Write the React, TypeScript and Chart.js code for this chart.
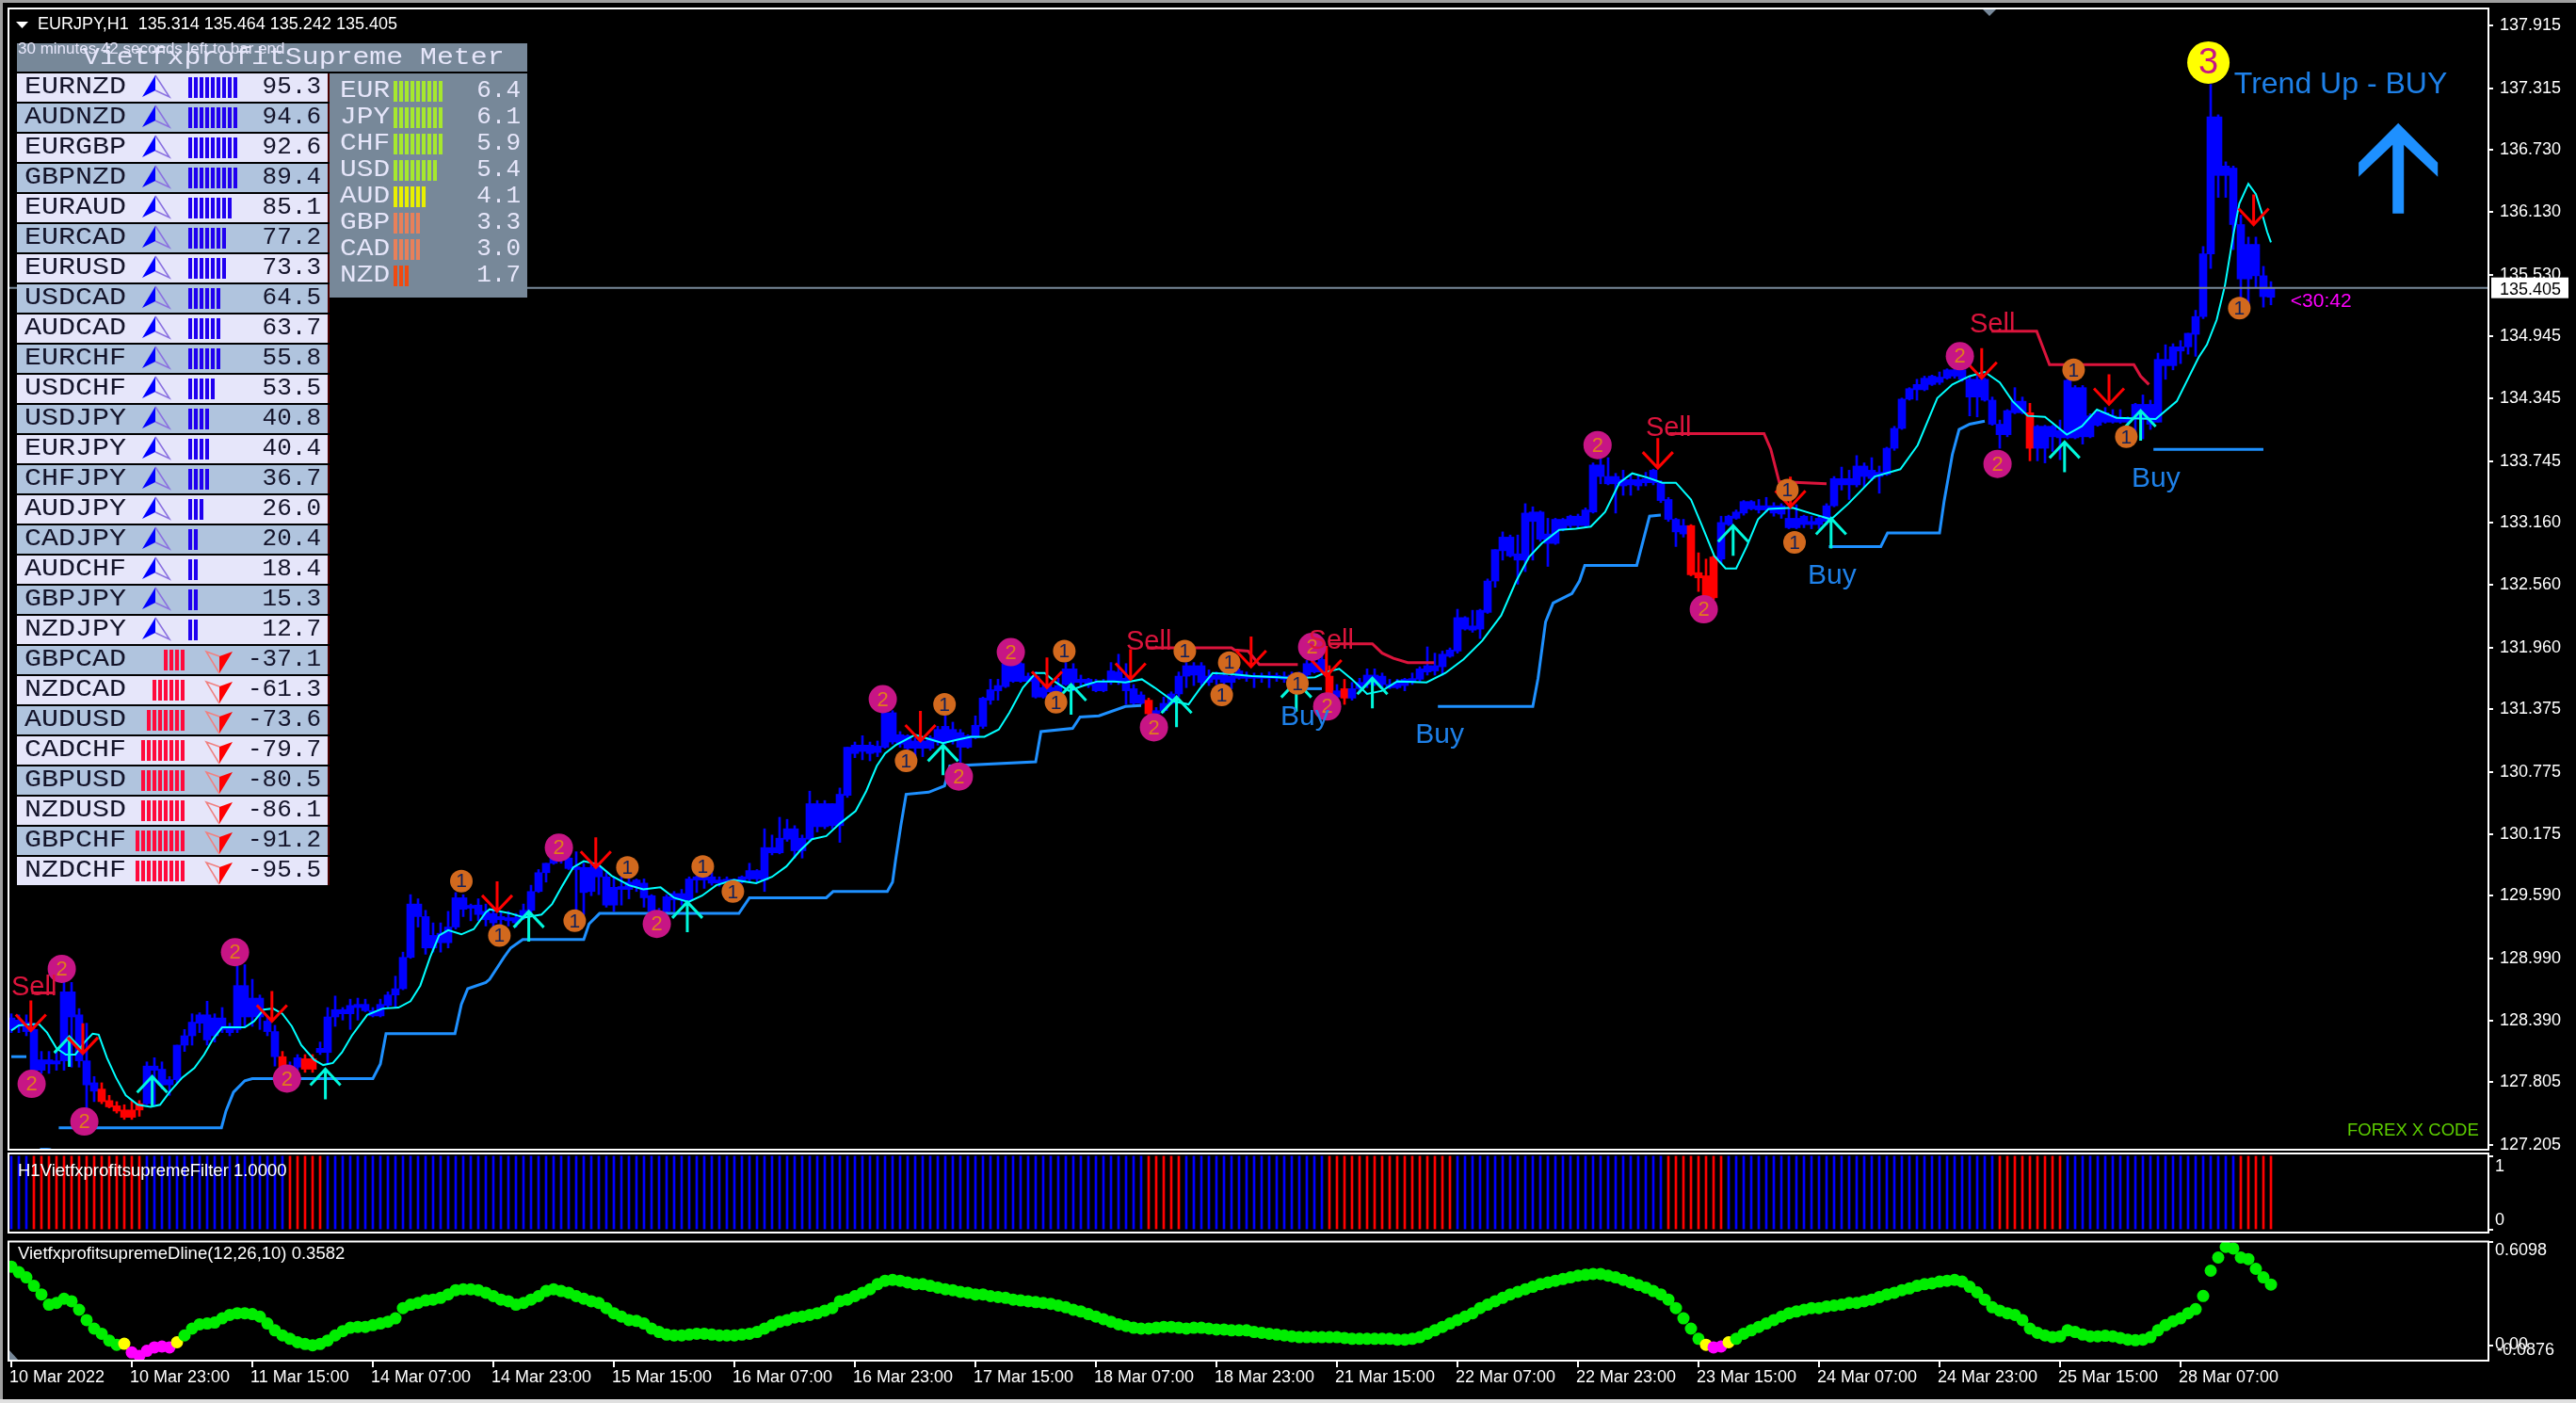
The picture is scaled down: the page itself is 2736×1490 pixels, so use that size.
import React, { useEffect, useRef } from "react";
import { Chart, registerables } from "chart.js";

Chart.register(...registerables);

const bodyTop = [
128.42,128.40,128.38,128.31,128.02,128.02,128.01,128.67,128.67,128.45,
128.01,127.80,127.74,127.63,127.58,127.54,127.54,127.60,127.96,127.96,
127.93,127.83,128.16,128.25,128.38,128.45,128.45,128.42,128.42,128.34,
128.73,128.73,128.61,128.61,128.39,128.29,128.05,127.96,128.04,128.03,
128.03,128.13,128.43,128.50,128.50,128.54,128.55,128.55,128.49,128.55,
128.64,128.70,129.00,129.51,129.51,129.39,129.21,129.23,129.29,129.57,
129.57,129.48,129.50,129.44,129.42,129.39,129.38,129.38,129.45,129.63,
129.81,129.90,129.96,130.02,129.95,129.86,129.86,129.86,129.86,129.77,
129.67,129.67,129.72,129.74,129.71,129.59,129.44,129.58,129.61,129.61,
129.75,129.77,129.77,129.77,129.74,129.73,129.74,129.77,129.83,129.83,
130.05,130.05,130.14,130.23,130.23,130.14,130.47,130.47,130.47,130.47,
130.56,131.01,131.03,131.03,131.03,131.02,131.34,131.34,131.13,131.12,
131.07,131.07,131.10,131.18,131.21,131.18,131.15,131.12,131.22,131.48,
131.56,131.60,131.81,131.81,131.81,131.69,131.69,131.58,131.58,131.60,
131.76,131.76,131.66,131.66,131.63,131.63,131.74,131.73,131.67,131.57,
131.51,131.46,131.36,131.43,131.52,131.69,131.79,131.79,131.79,131.69,
131.70,131.70,131.69,131.74,131.69,131.69,131.69,131.69,131.69,131.69,
131.70,131.72,131.81,131.82,131.85,131.69,131.55,131.57,131.57,131.63,
131.70,131.70,131.69,131.61,131.63,131.66,131.66,131.76,131.79,131.79,
131.90,131.94,132.25,132.25,132.17,132.32,132.60,132.90,133.02,133.02,
132.86,133.25,133.26,133.26,133.05,133.19,133.19,133.22,133.22,133.28,
133.71,133.71,133.60,133.60,133.57,133.57,133.57,133.58,133.66,133.54,
133.38,133.19,133.13,133.13,132.68,132.65,132.83,133.16,133.22,133.26,
133.36,133.36,133.32,133.32,133.32,133.32,133.20,133.20,133.22,133.17,
133.20,133.32,133.58,133.58,133.58,133.70,133.70,133.66,133.64,133.87,
134.06,134.34,134.44,134.48,134.54,134.56,134.55,134.62,134.62,134.62,
134.53,134.53,134.53,134.33,134.10,134.23,134.32,134.32,134.21,134.08,
134.08,134.08,134.04,134.52,134.45,134.45,134.18,134.21,134.21,134.18,
134.15,134.15,134.29,134.29,134.29,134.72,134.72,134.84,134.84,134.97,
135.13,135.73,137.04,137.04,136.57,136.55,136.01,135.82,135.82,135.52,135.405];

const bodyBottom = [
128.31,128.34,128.29,127.92,127.92,127.98,127.98,128.01,128.43,128.01,
127.78,127.72,127.62,127.57,127.53,127.47,127.47,127.54,127.60,127.92,
127.78,127.78,127.83,128.16,128.25,128.37,128.21,128.25,128.31,128.28,
128.31,128.43,128.43,128.43,128.29,128.05,127.95,127.92,127.95,127.93,
127.93,128.09,128.09,128.43,128.46,128.46,128.52,128.49,128.44,128.44,
128.54,128.64,128.70,129.00,129.39,129.09,129.09,129.14,129.14,129.29,
129.46,129.47,129.41,129.36,129.33,129.36,129.35,129.33,129.38,129.45,
129.63,129.81,129.90,129.95,129.85,129.84,129.62,129.63,129.77,129.50,
129.50,129.65,129.65,129.68,129.57,129.44,129.41,129.44,129.55,129.55,
129.55,129.74,129.74,129.71,129.71,129.72,129.72,129.72,129.75,129.75,
129.74,130.00,130.00,130.13,130.02,130.02,130.13,130.25,130.25,130.26,
130.26,130.55,130.95,130.97,130.95,130.96,131.01,131.06,131.04,131.00,
131.00,131.00,131.00,131.06,131.06,131.07,131.01,131.01,131.10,131.21,
131.46,131.55,131.59,131.64,131.64,131.64,131.49,131.49,131.54,131.54,
131.61,131.63,131.63,131.60,131.55,131.55,131.63,131.64,131.55,131.43,
131.43,131.33,131.33,131.36,131.43,131.52,131.69,131.70,131.63,131.63,
131.66,131.63,131.63,131.67,131.67,131.67,131.67,131.67,131.67,131.66,
131.67,131.63,131.70,131.73,131.73,131.52,131.49,131.48,131.48,131.57,
131.61,131.63,131.61,131.58,131.58,131.60,131.64,131.66,131.73,131.74,
131.78,131.88,131.93,132.14,132.13,132.14,132.30,132.60,132.89,132.84,
132.80,132.80,133.17,133.00,132.96,132.96,133.10,133.13,133.13,133.13,
133.26,133.60,133.53,133.53,133.51,133.52,133.51,133.54,133.54,133.37,
133.19,133.07,133.05,132.66,132.63,132.45,132.44,132.81,133.14,133.20,
133.25,133.29,133.28,133.28,133.25,133.24,133.11,133.11,133.14,133.14,
133.14,133.17,133.32,133.52,133.52,133.52,133.60,133.58,133.60,133.62,
133.87,134.06,134.34,134.43,134.43,134.48,134.50,134.54,134.56,134.53,
134.36,134.36,134.33,134.10,134.00,134.00,134.21,134.21,133.87,133.87,
133.87,133.98,133.97,133.97,133.97,133.98,133.98,134.09,134.12,134.12,
134.12,134.12,134.15,134.15,134.10,134.12,134.66,134.66,134.80,134.84,
134.96,135.13,135.73,136.48,136.48,136.01,135.49,135.49,135.52,135.32,135.314];

const wickHigh = [
128.46,128.45,128.45,128.37,128.10,128.10,128.10,128.76,128.76,128.51,
128.37,127.86,127.80,127.68,127.62,127.59,127.63,127.63,128.00,128.04,
128.00,127.86,128.16,128.31,128.46,128.47,128.58,128.46,128.52,128.37,
128.93,128.93,128.79,128.64,128.43,128.35,128.10,128.00,128.07,128.07,
128.07,128.19,128.52,128.63,128.52,128.60,128.61,128.60,128.52,128.60,
128.67,128.82,129.05,129.60,129.56,129.45,129.33,129.33,129.44,129.62,
129.60,129.51,129.56,129.51,129.47,129.44,129.44,129.42,129.51,129.69,
129.84,129.90,129.98,130.05,130.01,130.01,129.90,129.90,129.90,129.81,
129.77,129.77,129.77,129.75,129.75,129.60,129.47,129.60,129.63,129.65,
129.77,129.78,129.81,129.81,129.77,129.77,129.75,129.78,129.90,129.84,
130.23,130.17,130.34,130.32,130.26,130.17,130.59,130.50,130.50,130.47,
130.62,131.01,131.06,131.12,131.06,131.07,131.37,131.36,131.16,131.13,
131.10,131.10,131.12,131.21,131.31,131.25,131.18,131.13,131.31,131.49,
131.66,131.66,131.82,131.82,131.82,131.72,131.73,131.61,131.61,131.67,
131.82,131.81,131.70,131.67,131.66,131.66,131.82,131.90,131.81,131.61,
131.54,131.48,131.39,131.49,131.54,131.73,131.82,131.82,131.82,131.75,
131.73,131.75,131.73,131.76,131.73,131.72,131.72,131.73,131.72,131.73,
131.73,131.73,131.84,131.84,131.97,131.79,131.61,131.66,131.63,131.67,
131.76,131.76,131.72,131.66,131.66,131.67,131.72,131.78,131.97,131.91,
131.93,131.96,132.33,132.26,132.32,132.33,132.62,132.90,133.07,133.04,
133.04,133.34,133.31,133.27,133.20,133.20,133.20,133.23,133.24,133.30,
133.73,133.82,133.78,133.63,133.66,133.62,133.61,133.64,133.67,133.56,
133.40,133.20,133.19,133.14,132.87,132.81,132.84,133.22,133.23,133.28,
133.37,133.37,133.38,133.40,133.35,133.34,133.31,133.33,133.23,133.22,
133.22,133.34,133.60,133.69,133.66,133.80,133.73,133.78,133.70,133.88,
134.08,134.35,134.45,134.53,134.56,134.57,134.60,134.63,134.65,134.68,
134.56,134.56,134.54,134.36,134.14,134.24,134.45,134.36,134.30,134.09,
134.09,134.09,134.14,134.53,134.47,134.47,134.20,134.23,134.26,134.24,
134.24,134.17,134.30,134.38,134.33,134.78,134.86,134.87,134.90,134.97,
135.19,135.80,137.35,137.06,136.61,136.57,136.10,135.89,135.89,135.61,135.464];

const wickLow = [
128.28,128.28,128.25,127.86,127.89,127.89,127.92,127.92,127.95,127.95,
127.56,127.62,127.60,127.56,127.51,127.45,127.45,127.48,127.59,127.59,
127.74,127.68,127.80,128.10,128.16,128.28,128.16,128.19,128.28,128.25,
128.28,128.34,128.34,128.31,128.25,127.96,127.92,127.89,127.92,127.90,
127.90,128.07,127.98,128.34,128.40,128.31,128.40,128.48,128.43,128.43,
128.52,128.52,128.69,128.99,129.29,129.03,129.05,129.05,129.09,129.27,
129.39,129.35,129.35,129.30,129.29,129.29,129.30,129.29,129.36,129.41,
129.62,129.72,129.89,129.90,129.84,129.45,129.41,129.59,129.60,129.48,
129.44,129.50,129.56,129.63,129.48,129.41,129.33,129.41,129.44,129.50,
129.53,129.62,129.66,129.69,129.68,129.68,129.69,129.71,129.72,129.72,
129.63,129.98,129.99,130.11,129.95,129.95,130.11,130.20,130.23,130.23,
130.10,130.53,130.91,130.89,130.88,130.92,131.00,131.04,131.01,130.98,
130.92,130.92,130.98,131.03,131.04,131.04,130.86,131.00,131.09,131.19,
131.42,131.46,131.58,131.63,131.63,131.63,131.48,131.48,131.49,131.52,
131.60,131.55,131.60,131.58,131.54,131.54,131.61,131.61,131.42,131.40,
131.42,131.30,131.30,131.34,131.42,131.49,131.58,131.60,131.60,131.60,
131.61,131.60,131.57,131.66,131.64,131.58,131.63,131.58,131.64,131.63,
131.64,131.61,131.67,131.72,131.70,131.49,131.48,131.42,131.46,131.54,
131.58,131.60,131.57,131.57,131.57,131.55,131.61,131.64,131.70,131.70,
131.70,131.87,131.91,132.13,132.11,132.05,132.29,132.54,132.80,132.83,
132.57,132.69,132.80,132.98,132.74,132.95,133.08,133.11,133.11,133.11,
133.25,133.53,133.52,133.25,133.42,133.42,133.47,133.51,133.52,133.35,
133.17,132.93,133.02,132.65,132.50,132.42,132.42,132.77,133.13,133.19,
133.23,133.28,133.25,133.26,133.22,133.20,133.10,133.10,133.11,133.10,
133.10,133.14,133.31,133.47,133.38,133.50,133.50,133.56,133.44,133.61,
133.85,134.05,134.33,134.33,134.42,134.47,134.48,134.53,134.54,134.51,
134.18,134.17,134.32,134.09,133.87,133.98,134.20,134.20,133.75,133.75,
133.73,133.84,133.76,133.96,133.96,133.91,133.97,134.08,134.11,134.11,
134.11,134.11,133.98,133.96,134.05,134.12,134.53,134.62,134.68,134.77,
134.75,135.11,135.59,136.27,136.27,135.77,135.31,135.25,135.41,135.22,135.242];

const redCandles = [12,13,14,15,16,17,36,39,40,151,175,177,223,224,225,226,268];
const filterRedRuns = [[3,17],[37,41],[151,155],[175,191],[220,227],[264,272],[296,300]];

const cyanIdx = [0,1,2.7,3.7,4.75,6,7.25,8.5,9.75,10.8,11.6,12.7,13.9,15.2,16.8,18.5,19.75,21,22.7,24.3,25.6,26.8,28,29.3,31,32.25,33.5,34.75,36,37.25,38.5,40.2,41.4,42.7,43.9,45.2,47.25,49.3,51.4,53,54.3,55.6,56.8,58,59.75,61.4,63,
63.5,66.3,68.1,70.4,71.8,73.2,74.6,76,77.9,79.7,82,83.9,86.2,88,89.9,91.7,93.6,95.9,98.9,101,102.9,104.7,106.3,108.2,110,112.1,113.5,114.9,116,117.4,120,121.8,123.7,125.5,127.4,129.2,131.1,132.5,134.3,136,
137.2,138.5,140.4,142.4,144.2,146.4,147.9,150.1,151.8,154.3,156.3,157.8,159.5,161.7,164.7,168.1,170.6,173.1,174.6,176.3,178,180,182,184,187.9,190.4,192.8,195.3,197.8,199.8,201.5,203.2,205.5,207.7,209.7,211.6,213.5,
215.2,217.2,219.2,221,223,224.4,226.1,227.6,229,230.4,231.9,233.3,236.5,238.8,241.6,243.9,247.4,250.8,253.1,255.7,257.7,260,262,264,265.7,267.7,270,272.9,274.9,276.9,279.5,284.7,287.5,290.4,291.5,292.8,293.9,295,295.8,297,298,298.8,299.5,300];
const cyanPrice = [128.30,128.35,128.36,128.36,128.28,128.13,128.07,128.07,128.19,128.27,128.26,128.04,127.85,127.68,127.59,127.57,127.59,127.71,127.85,127.94,128.07,128.22,128.33,128.33,128.33,128.39,128.50,128.51,128.46,128.34,128.16,128.02,127.97,127.99,128.09,128.25,128.45,128.51,128.52,128.58,128.73,129.00,129.21,129.26,129.22,129.27,129.43,
129.46,129.42,129.38,129.41,129.51,129.69,129.86,129.92,129.89,129.78,129.69,129.65,129.67,129.57,129.53,129.59,129.69,129.74,129.71,129.77,129.87,130.02,130.13,130.16,130.28,130.40,130.59,130.83,130.95,131.03,131.13,131.09,131.05,131.08,131.11,131.11,131.18,131.34,131.58,131.72,
131.72,131.64,131.55,131.60,131.64,131.64,131.63,131.66,131.58,131.45,131.42,131.57,131.72,131.71,131.69,131.68,131.67,131.68,131.73,131.76,131.66,131.52,131.55,131.64,131.63,131.72,131.85,132.03,132.27,132.60,132.83,132.96,133.09,133.10,133.12,133.26,133.54,
133.63,133.59,133.54,133.54,133.38,133.14,132.84,132.72,132.72,132.93,133.19,133.29,133.30,133.25,133.19,133.34,133.60,133.67,133.90,134.35,134.48,134.56,134.60,134.50,134.32,134.18,134.17,134.00,134.08,134.24,134.16,134.15,134.32,134.74,134.86,135.10,135.43,135.91,136.21,136.40,136.30,136.12,135.94,135.84];

const blueSeg1 = [[0,128.05],[2,128.05]];
const blueSeg2 = [[6.3,127.37],[27.9,127.37],[28.5,127.53],[29.5,127.71],[31,127.82],[32,127.84],[48,127.84],[49,127.98],[49.75,128.27],[58.9,128.27],[59.75,128.55],[60.6,128.70],[63,128.76],[63.5,128.79],[65.4,129.00],[66.3,129.09],[67.9,129.17],[76,129.17],[76.7,129.32],[78.1,129.42],[96.6,129.42],[98,129.57],[108.2,129.57],[109.1,129.63],[116.3,129.63],[117,129.72],[117.4,129.93],[118.1,130.26],[118.8,130.56],[121.8,130.58],[123.9,130.64],[124.6,130.83],[136,130.87],[136.7,131.16],[140.9,131.19],[141.9,131.30],[144.4,131.31],[147.9,131.40],[150,131.41]];
const blueSeg3 = [[171.6,131.57],[174,131.57]];
const blueSeg4 = [[189.4,131.40],[202,131.40],[202.7,131.67],[203.7,132.21],[204.7,132.39],[207.2,132.48],[208.2,132.60],[208.9,132.75],[215.8,132.75],[217.5,133.22],[219,133.23]];
const blueSeg5 = [[241.3,132.93],[248.2,132.93],[249.1,133.06],[256,133.06],[256.6,133.36],[257.7,133.81],[258.6,134.05],[260,134.10],[262,134.13]];
const blueSeg6 = [[284.4,133.86],[299,133.86]];

const redSeg1 = [[2.7,128.66],[5.8,128.66]];
const redSeg2 = [[150.8,131.96],[162,131.96],[162.4,131.94],[164.2,131.93],[165.7,131.80],[170.8,131.80]];
const redSeg3 = [[175,132.00],[180.7,132.00],[182,131.91],[183.5,131.86],[185.4,131.82],[188.9,131.82]];
const redSeg4 = [[220.1,134.01],[232.7,134.01],[233.6,133.86],[234.7,133.55],[241,133.53]];
const redSeg5 = [[262.9,134.99],[268.9,134.99],[270.6,134.67],[281.8,134.67],[282.7,134.56],[283.8,134.48]];

const sellArrows = [[2.6,128.30],[9.5,128.08],[34.6,128.39],[64.5,129.44],[77.6,129.86],[120.7,131.07],[137.5,131.58],[148.6,131.66],[164.6,131.78],[174.6,131.69],[218.6,133.68],[236.2,133.31],[261.6,134.54],[278.5,134.29],[297.7,136.01]];
const buyArrows = [[7.7,128.24],[18.7,127.86],[41.7,127.93],[68.7,129.44],[89.75,129.53],[123.7,131.03],[140.7,131.61],[154.7,131.49],[170.6,131.64],[180.7,131.67],[228.6,133.13],[241.6,133.20],[272.6,133.93],[282.7,134.23]];

const pinkCircles = [[2.7,127.79],[6.7,128.89],[9.7,127.43],[29.7,129.05],[36.6,127.84],[72.7,130.05],[85.7,129.32],[115.7,131.47],[125.8,130.73],[132.7,131.92],[151.7,131.20],[172.7,131.97],[174.7,131.40],[210.6,133.90],[224.7,132.33],[258.7,134.75],[263.7,133.72]];
const orangeCircles = [[59.75,129.73],[64.8,129.21],[74.8,129.35],[81.8,129.86],[91.8,129.87],[95.8,129.63],[118.8,130.88],[123.9,131.42],[139.8,131.93],[138.7,131.44],[155.8,131.93],[161.7,131.82],[160.7,131.51],[170.75,131.62],[235.8,133.47],[236.75,132.97],[273.8,134.62],[280.8,133.98],[295.8,135.21]];
const yellowCircle = [291.7,137.56];

const sellLabels = [[0,128.64],[148,131.94],[172.2,131.95],[217,133.99],[260,134.98]];
const buyLabels = [[3.5,127.0],[168.5,131.22],[186.4,131.05],[238.5,132.57],[281.5,133.50]];

const dlineValues = [
.463,.43,.40,.35,.30,.24,.25,.275,.26,.21,.15,.10,.07,.03,.005,.011,-.04,-.06,-.03,-.01,-.005,-.01,.02,.06,.10,.125,.13,.135,.16,.18,
.19,.19,.185,.17,.13,.09,.06,.04,.02,.01,.002,.01,.03,.06,.085,.105,.11,.11,.12,.13,.14,.16,.22,.24,.25,.265,.27,.28,.30,.325,
.33,.33,.325,.31,.29,.27,.26,.24,.25,.27,.29,.32,.33,.32,.31,.29,.275,.26,.25,.22,.19,.17,.15,.145,.13,.10,.08,.065,.06,.06,
.065,.07,.07,.065,.06,.06,.06,.065,.07,.08,.10,.12,.14,.15,.165,.17,.18,.19,.205,.22,.26,.27,.29,.31,.33,.36,.38,.385,.38,.37,
.36,.36,.35,.34,.33,.325,.315,.31,.30,.30,.29,.285,.28,.27,.265,.26,.255,.25,.245,.235,.225,.21,.20,.185,.17,.155,.14,.125,.115,.105,
.10,.10,.105,.11,.11,.105,.10,.105,.105,.10,.095,.095,.09,.09,.09,.08,.075,.07,.065,.06,.055,.05,.05,.05,.05,.05,.05,.045,.04,.04,
.04,.04,.04,.04,.035,.035,.04,.05,.07,.09,.11,.13,.15,.17,.19,.22,.24,.26,.28,.30,.315,.33,.345,.36,.37,.38,.39,.40,.41,.415,
.42,.42,.41,.40,.385,.37,.355,.34,.32,.30,.27,.22,.16,.10,.04,.005,-.01,-.005,.02,.04,.07,.09,.11,.13,.15,.17,.19,.20,.21,.22,
.22,.23,.235,.24,.25,.25,.26,.27,.285,.30,.31,.325,.335,.35,.36,.365,.375,.38,.385,.375,.345,.312,.27,.225,.205,.19,.18,.15,.10,.075,
.06,.05,.055,.09,.08,.065,.055,.055,.058,.055,.045,.035,.032,.035,.05,.09,.12,.143,.16,.19,.214,.291,.439,.516,.578,.569,.516,.507,.45,.40,.3582];
const dlineYellow = [15,22,225,228];
const dlineMagenta = [16,17,18,19,20,21,226,227];

const yTicks = [137.915,137.315,136.73,136.13,135.53,134.945,134.345,133.745,133.16,132.56,131.96,131.375,130.775,130.175,129.59,128.99,128.39,127.805,127.205];
const xTickIdx = [0,16,32,48,64,80,96,112,128,144,160,176,192,208,224,240,256,272,288];
const xLabels = ["10 Mar 2022","10 Mar 23:00","11 Mar 15:00","14 Mar 07:00","14 Mar 23:00","15 Mar 15:00","16 Mar 07:00","16 Mar 23:00","17 Mar 15:00","18 Mar 07:00","18 Mar 23:00","21 Mar 15:00","22 Mar 07:00","22 Mar 23:00","23 Mar 15:00","24 Mar 07:00","24 Mar 23:00","25 Mar 15:00","28 Mar 07:00"];

const currentPrice = 135.405;

const pairNames = ["EURNZD","AUDNZD","EURGBP","GBPNZD","EURAUD","EURCAD","EURUSD","USDCAD","AUDCAD","EURCHF","USDCHF","USDJPY","EURJPY","CHFJPY","AUDJPY","CADJPY","AUDCHF","GBPJPY","NZDJPY","GBPCAD","NZDCAD","AUDUSD","CADCHF","GBPUSD","NZDUSD","GBPCHF","NZDCHF"];
const pairValues = [95.3,94.6,92.6,89.4,85.1,77.2,73.3,64.5,63.7,55.8,53.5,40.8,40.4,36.7,26.0,20.4,18.4,15.3,12.7,-37.1,-61.3,-73.6,-79.7,-80.5,-86.1,-91.2,-95.5];
const pairBars = [9,9,9,9,8,7,7,6,6,6,5,4,4,4,3,2,2,2,2,4,6,7,8,8,8,9,9];
const currencyNames = ["EUR","JPY","CHF","USD","AUD","GBP","CAD","NZD"];
const currencyValues = [6.4,6.1,5.9,5.4,4.1,3.3,3.0,1.7];
const currencyBars = [9,9,9,8,6,5,5,3];
const currencyColors = ["#A6E82E","#A6E82E","#A6E82E","#A6E82E","#E8F000","#E8805A","#E8805A","#F04A10"];

const FONT = '"Liberation Sans", Arial, sans-serif';
const MONO = '"Liberation Mono", "Courier New", monospace';
const X_MIN = -0.375;
const X_MAX = 328.875;

const toXY = (s: number[][]) => s.map(([x, y]) => ({ x, y }));
const lineDs = (seg: any[], color: string, width: number, order = 1) => ({
  type: "line" as const,
  data: seg,
  borderColor: color,
  borderWidth: width,
  pointRadius: 0,
  tension: 0,
  fill: false,
  order,
});

const fixedY = (extra: any) => ({
  position: "right",
  type: "linear",
  afterFit: (s: any) => { s.width = 93; s.paddingTop = 0; s.paddingBottom = 0; },
  grid: { drawOnChartArea: false, drawTicks: true, tickLength: 5, color: "#fff", lineWidth: 2 },
  border: { display: false },
  ...extra,
});

const baseX = (extra: any) => ({
  type: "linear",
  min: X_MIN,
  max: X_MAX,
  offset: false,
  grid: { display: false, offset: false },
  border: { display: false },
  display: false,
  ...extra,
});

const frame = (chart: any) => {
  const { ctx, chartArea: a } = chart;
  ctx.save();
  ctx.strokeStyle = "#fff";
  ctx.lineWidth = 2;
  ctx.strokeRect(a.left, a.top, a.right - a.left, a.bottom - a.top);
  ctx.restore();
};

const text = (ctx: any, s: string, x: number, y: number, font: string, color: string, align = "left", base = "alphabetic") => {
  ctx.font = font;
  ctx.fillStyle = color;
  ctx.textAlign = align;
  ctx.textBaseline = base;
  ctx.fillText(s, x, y);
};

// Monospace text stretched sideways to the reference's character pitch.
const mono = (ctx: any, s: string, x: number, y: number, color: string, pitch: number, align = "left") => {
  const size = 26;
  const sx = pitch / (size * 0.6);
  const left = align === "right" ? x - s.length * pitch : x;
  ctx.save();
  ctx.font = `${size}px ${MONO}`;
  ctx.fillStyle = color;
  ctx.textBaseline = "alphabetic";
  ctx.textAlign = "left";
  ctx.translate(left, y);
  ctx.scale(sx, 1);
  ctx.fillText(s, 0, 0);
  ctx.restore();
};

const drawMeter = (ctx: any) => {
  ctx.fillStyle = "#778899";
  ctx.fillRect(18, 46, 542, 30);
  mono(ctx, "VietfxprofitSupreme Meter", 88, 68, "#E6E6FA", 17.9);
  text(ctx, "30 minutes 42 seconds left to bar end", 19, 57, `17px ${FONT}`, "#E6E6FA");

  pairNames.forEach((name, i) => {
    const top = 78 + i * 32;
    ctx.fillStyle = i % 2 === 0 ? "#E6E6FA" : "#B0C4DE";
    ctx.fillRect(18, top, 330, 30);
    ctx.fillStyle = "#4a0000";
    ctx.fillRect(348, top, 2, 30);
    mono(ctx, name, 26, top + 21, "#14142a", 18);
    const v = pairValues[i];
    mono(ctx, v.toFixed(1), 341, top + 21, "#14142a", 15.6, "right");
    const up = v >= 0;
    for (let b = 0; b < pairBars[i]; b++) {
      ctx.fillStyle = up ? "#2000F0" : "#FF0A3C";
      const bx = up ? 200 + b * 6 : 192 - b * 6;
      ctx.fillRect(bx, top + 4, 4, 22);
    }
    ctx.beginPath();
    if (up) {
      ctx.moveTo(165, top + 2); ctx.lineTo(151, top + 25); ctx.lineTo(165, top + 18); ctx.closePath();
      ctx.fillStyle = "#0000FF"; ctx.fill();
      ctx.beginPath();
      ctx.moveTo(165, top + 2); ctx.lineTo(180, top + 25); ctx.lineTo(165, top + 18);
      ctx.strokeStyle = "#8A70E0"; ctx.lineWidth = 1.5; ctx.stroke();
    } else {
      ctx.moveTo(233, top + 29); ctx.lineTo(247, top + 6); ctx.lineTo(233, top + 11); ctx.closePath();
      ctx.fillStyle = "#FF0000"; ctx.fill();
      ctx.beginPath();
      ctx.moveTo(233, top + 29); ctx.lineTo(219, top + 6); ctx.lineTo(233, top + 11);
      ctx.strokeStyle = "#F08080"; ctx.lineWidth = 1.5; ctx.stroke();
    }
  });

  ctx.fillStyle = "#778899";
  ctx.fillRect(350, 78, 210, 238);
  currencyNames.forEach((name, i) => {
    const top = 86 + i * 28;
    mono(ctx, name, 361, top + 17, "#E6E6FA", 17.7);
    ctx.fillStyle = currencyColors[i];
    for (let b = 0; b < currencyBars[i]; b++) ctx.fillRect(418 + b * 6, top, 4, 22);
    mono(ctx, currencyValues[i].toFixed(1), 553, top + 17, "#E6E6FA", 15.6, "right");
  });
};

const mainOverlay = {
  id: "mainOverlay",
  afterDatasetsDraw(chart: any) {
    const { ctx, chartArea: a, scales } = chart;
    const X = (v: number) => scales.x.getPixelForValue(v);
    const Y = (v: number) => scales.y.getPixelForValue(v);
    ctx.save();
    ctx.beginPath();
    ctx.rect(a.left, a.top, a.right - a.left, a.bottom - a.top);
    ctx.clip();

    ctx.lineCap = "butt";
    ctx.lineJoin = "miter";
    buyArrows.forEach(([i, p]) => {
      const x = X(i), y = Y(p);
      ctx.strokeStyle = "#00F8DC";
      ctx.lineWidth = 3;
      ctx.beginPath();
      ctx.moveTo(x, y + 32); ctx.lineTo(x, y);
      ctx.moveTo(x - 16, y + 17); ctx.lineTo(x, y); ctx.lineTo(x + 16, y + 17);
      ctx.stroke();
    });
    sellArrows.forEach(([i, p]) => {
      const x = X(i), y = Y(p);
      ctx.strokeStyle = "#FF0000";
      ctx.lineWidth = 3;
      ctx.beginPath();
      ctx.moveTo(x, y - 32); ctx.lineTo(x, y);
      ctx.moveTo(x - 16, y - 17); ctx.lineTo(x, y); ctx.lineTo(x + 16, y - 17);
      ctx.stroke();
    });

    const circle = (i: number, p: number, r: number, fill: string, d: string, dc: string, size: number) => {
      const x = X(i), y = Y(p);
      ctx.fillStyle = fill;
      ctx.beginPath();
      ctx.arc(x, y, r, 0, Math.PI * 2);
      ctx.fill();
      text(ctx, d, x, y + 1, `${size}px ${FONT}`, dc, "center", "middle");
    };
    pinkCircles.forEach(([i, p]) => circle(i, p, 15, "#C71585", "2", "#E07B1E", 22));
    orangeCircles.forEach(([i, p]) => circle(i, p, 12, "#D2691E", "1", "#10205A", 21));
    circle(yellowCircle[0], yellowCircle[1], 22.5, "#FFFF00", "3", "#C71585", 38);

    sellLabels.forEach(([i, p]) => text(ctx, "Sell", X(i), Y(p), `29px ${FONT}`, "#DC143C"));
    buyLabels.forEach(([i, p]) => text(ctx, "Buy", X(i), Y(p), `30px ${FONT}`, "#1E80E8"));

    ctx.strokeStyle = "#778899";
    ctx.lineWidth = 2;
    ctx.beginPath();
    ctx.moveTo(a.left, Y(currentPrice)); ctx.lineTo(a.right, Y(currentPrice));
    ctx.stroke();

    ctx.fillStyle = "#778899";
    ctx.beginPath();
    ctx.moveTo(2105, 9); ctx.lineTo(2121, 9); ctx.lineTo(2113, 17); ctx.closePath();
    ctx.fill();

    text(ctx, "Trend Up - BUY", X(295.1), Y(137.263), `32px ${FONT}`, "#1E80E8");

    const ax = X(316.9), ay = Y(136.98);
    ctx.fillStyle = "#1E90FF";
    ctx.beginPath();
    ctx.moveTo(ax, ay);
    ctx.lineTo(ax + 42, ay + 42);
    ctx.lineTo(ax + 42, ay + 57);
    ctx.lineTo(ax + 6, ay + 23);
    ctx.lineTo(ax + 6, ay + 96);
    ctx.lineTo(ax - 6, ay + 96);
    ctx.lineTo(ax - 6, ay + 23);
    ctx.lineTo(ax - 42, ay + 57);
    ctx.lineTo(ax - 42, ay + 42);
    ctx.closePath();
    ctx.fill();

    text(ctx, "<30:42", X(302.6), Y(135.22), `21px ${FONT}`, "#FF00FF");
    text(ctx, "FOREX X CODE", 2493, 1206, `18.5px ${FONT}`, "#5CCC00");

    text(ctx, "EURJPY,H1  135.314 135.464 135.242 135.405", 40, 31, `18px ${FONT}`, "#fff");
    ctx.fillStyle = "#fff";
    ctx.beginPath();
    ctx.moveTo(17, 23); ctx.lineTo(30, 23); ctx.lineTo(23.5, 30); ctx.closePath();
    ctx.fill();

    drawMeter(ctx);
    ctx.restore();

    frame(chart);

    const py = Y(currentPrice);
    ctx.fillStyle = "#fff";
    ctx.fillRect(2646, py - 11, 82, 22);
    text(ctx, "135.405", 2655, py + 7, `18px ${FONT}`, "#000");
  },
};

const filterOverlay = {
  id: "filterOverlay",
  afterDatasetsDraw(chart: any) {
    const { ctx } = chart;
    ctx.save();
    text(ctx, "H1VietfxprofitsupremeFilter 1.0000", 19, 27, `18.5px ${FONT}`, "#fff");
    text(ctx, "1", 2650, 22, `18px ${FONT}`, "#fff");
    text(ctx, "0", 2650, 79, `18px ${FONT}`, "#fff");
    ctx.restore();
    frame(chart);
  },
};

const dlineOverlay = {
  id: "dlineOverlay",
  afterDatasetsDraw(chart: any) {
    const { ctx, chartArea: a } = chart;
    ctx.save();
    text(ctx, "VietfxprofitsupremeDline(12,26,10) 0.3582", 19, 25, `18.5px ${FONT}`, "#fff");
    ctx.fillStyle = "#778899";
    ctx.beginPath();
    ctx.moveTo(a.left, a.bottom - 12); ctx.lineTo(a.left + 11, a.bottom); ctx.lineTo(a.left, a.bottom); ctx.closePath();
    ctx.fill();
    text(ctx, "0.6098", 2650, 21, `18px ${FONT}`, "#fff");
    text(ctx, "0.00", 2650, 121, `18px ${FONT}`, "#fff");
    text(ctx, "-0.0876", 2652, 127, `18px ${FONT}`, "#fff");
    ctx.restore();
    frame(chart);
  },
};

const commonOptions = {
  responsive: false,
  maintainAspectRatio: false,
  devicePixelRatio: 1,
  animation: false,
  events: [] as string[],
};

export default function App() {
  const mainRef = useRef<HTMLCanvasElement>(null);
  const filterRef = useRef<HTMLCanvasElement>(null);
  const dlineRef = useRef<HTMLCanvasElement>(null);

  useEffect(() => {
    Chart.defaults.font.family = FONT;
    const barColor = (i: number) => (redCandles.includes(i) ? "#FF0000" : "#0000FF");
    const idx = bodyTop.map((_, i) => i);

    const main = new Chart(mainRef.current as any, {
      type: "bar",
      plugins: [mainOverlay],
      data: {
        datasets: [
          {
            data: idx.map((i) => ({ x: i, y: [wickLow[i], wickHigh[i]] })),
            backgroundColor: idx.map(barColor),
            barThickness: 2,
            grouped: false,
            order: 4,
          },
          {
            data: idx.map((i) => ({ x: i, y: [bodyBottom[i], bodyTop[i]] })),
            backgroundColor: idx.map(barColor),
            barThickness: 8,
            minBarLength: 3,
            grouped: false,
            order: 3,
          },
          lineDs(toXY(blueSeg1), "#1E90FF", 3),
          lineDs(toXY(blueSeg2), "#1E90FF", 3),
          lineDs(toXY(blueSeg3), "#1E90FF", 3),
          lineDs(toXY(blueSeg4), "#1E90FF", 3),
          lineDs(toXY(blueSeg5), "#1E90FF", 3),
          lineDs(toXY(blueSeg6), "#1E90FF", 3),
          lineDs(toXY(redSeg1), "#DC143C", 3),
          lineDs(toXY(redSeg2), "#DC143C", 3),
          lineDs(toXY(redSeg3), "#DC143C", 3),
          lineDs(toXY(redSeg4), "#DC143C", 3),
          lineDs(toXY(redSeg5), "#DC143C", 3),
          lineDs(cyanIdx.map((x, i) => ({ x, y: cyanPrice[i] })), "#00FFFF", 2, 0),
        ] as any,
      },
      options: {
        ...commonOptions,
        layout: { padding: { left: 9, top: 9, right: 0, bottom: 1 } },
        plugins: { legend: { display: false }, tooltip: { enabled: false } },
        scales: {
          x: baseX({}),
          y: fixedY({
            min: 127.16,
            max: 138.077,
            afterBuildTicks: (s: any) => { s.ticks = yTicks.map((value) => ({ value })); },
            ticks: {
              autoSkip: false,
              color: "#fff",
              padding: 7,
              font: { size: 18, family: FONT },
              callback: (v: any) => Number(v).toFixed(3),
            },
          }),
        },
      } as any,
    });

    const isRed = (i: number) => filterRedRuns.some(([a, b]) => i >= a && i <= b);
    const filter = new Chart(filterRef.current as any, {
      type: "bar",
      plugins: [filterOverlay],
      data: {
        datasets: [
          {
            data: idx.map((i) => ({ x: i, y: [0, 1] })),
            backgroundColor: idx.map((i) => (isRed(i) ? "#FF0000" : "#0000FF")),
            barThickness: 2,
          },
        ] as any,
      },
      options: {
        ...commonOptions,
        layout: { padding: { left: 9, top: 3, right: 0, bottom: 3 } },
        plugins: { legend: { display: false }, tooltip: { enabled: false } },
        scales: {
          x: baseX({}),
          y: fixedY({
            min: -0.0375,
            max: 1.0375,
            afterBuildTicks: (s: any) => { s.ticks = [{ value: 0 }, { value: 1 }]; },
            ticks: { display: false },
          }),
        },
      } as any,
    });

    const dotColor = (i: number) =>
      dlineYellow.includes(i) ? "#FFFF00" : dlineMagenta.includes(i) ? "#FF00FF" : "#00EE00";
    const dline = new Chart(dlineRef.current as any, {
      type: "scatter",
      plugins: [dlineOverlay],
      data: {
        datasets: [
          {
            data: idx.map((i) => ({ x: i, y: dlineValues[i] })),
            pointBackgroundColor: idx.map(dotColor),
            pointBorderWidth: 0,
            pointRadius: 6.5,
            showLine: false,
          },
        ] as any,
      },
      options: {
        ...commonOptions,
        layout: { padding: { left: 9, top: 1, right: 0, bottom: 0 } },
        plugins: { legend: { display: false }, tooltip: { enabled: false } },
        scales: {
          x: baseX({
            display: true,
            afterFit: (s: any) => { s.height = 45; },
            afterBuildTicks: (s: any) => { s.ticks = xTickIdx.map((value) => ({ value })); },
            grid: { display: true, drawOnChartArea: false, drawTicks: true, tickLength: 7, color: "#fff", lineWidth: 2, offset: false },
            ticks: {
              autoSkip: false,
              maxRotation: 0,
              minRotation: 0,
              align: "start",
              labelOffset: -2,
              padding: 0,
              color: "#fff",
              font: { size: 18, family: FONT },
              callback: (v: any) => xLabels[xTickIdx.indexOf(Number(v))],
            },
          }),
          y: fixedY({
            min: -0.0876,
            max: 0.6098,
            afterBuildTicks: (s: any) => { s.ticks = [{ value: 0.6098 }, { value: 0 }]; },
            ticks: { display: false },
          }),
        },
      } as any,
    });

    return () => {
      main.destroy();
      filter.destroy();
      dline.destroy();
    };
  }, []);

  const abs = (top: number): React.CSSProperties => ({ position: "absolute", left: 0, top, display: "block" });
  return (
    <div style={{ position: "fixed", left: 0, top: 0, width: 2736, height: 1490, background: "#000", overflow: "hidden" }}>
      <canvas ref={mainRef} width={2736} height={1222} style={abs(0)} />
      <canvas ref={filterRef} width={2736} height={90} style={abs(1222)} />
      <canvas ref={dlineRef} width={2736} height={178} style={abs(1312)} />
      <div style={{ position: "absolute", left: 0, top: 0, width: 2736, height: 3, background: "#A0A0A0" }} />
      <div style={{ position: "absolute", left: 0, top: 0, width: 3, height: 1490, background: "#A0A0A0" }} />
      <div style={{ position: "absolute", left: 0, top: 1486, width: 2736, height: 4, background: "#E0E0E0" }} />
    </div>
  );
}
